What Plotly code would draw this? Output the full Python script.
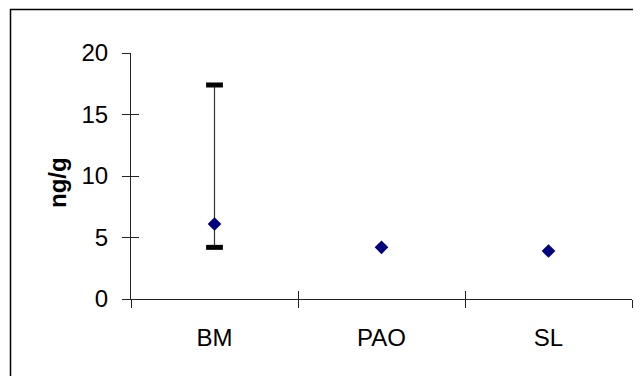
import plotly.graph_objects as go

categories = ["BM", "PAO", "SL"]
values = [6.1, 4.2, 3.9]
err_high = [17.4, None, None]
err_low = [4.2, None, None]
y_ticks = [0, 5, 10, 15, 20]

OFF = 8  # default body margin of the page
W, H = 641 - OFF, 376 - OFF
ML, MR, MT, MB = 131 - OFF, 9, 53 - OFF, 77
PW, PH = W - ML - MR, H - MT - MB

plus = [(h - v) if h is not None else 0 for h, v in zip(err_high, values)]
minus = [(v - l) if l is not None else 0 for l, v in zip(err_low, values)]
cap_x = [c for c, h in zip(categories, err_high) if h is not None] + \
        [c for c, l in zip(categories, err_low) if l is not None]
cap_y = [h for h in err_high if h is not None] + [l for l in err_low if l is not None]

FONT = "Liberation Sans, Arial, sans-serif"
FS = 24
AX = "#222222"

fig = go.Figure()
fig.add_trace(go.Scatter(
    x=categories, y=values, mode="markers",
    marker=dict(size=0.1, color="rgba(0,0,0,0)"),
    error_y=dict(type="data", symmetric=False, array=plus, arrayminus=minus,
                 color="#333333", thickness=1.2, width=0),
    hoverinfo="skip", showlegend=False))
fig.add_trace(go.Scatter(
    x=cap_x, y=cap_y, mode="markers",
    marker=dict(symbol="line-ew", size=12, line=dict(width=5, color="black")),
    hoverinfo="skip", showlegend=False))
fig.add_trace(go.Scatter(
    x=categories, y=values, mode="markers",
    marker=dict(symbol="diamond", size=10.5, color="#000080", line=dict(width=0)),
    showlegend=False))
fig.add_trace(go.Scatter(
    x=categories, y=values, mode="markers", xaxis="x2", yaxis="y2",
    marker=dict(size=1, opacity=0), hoverinfo="skip", showlegend=False))

common_x = dict(type="category", categoryorder="array", categoryarray=categories,
                range=[-0.5, 2.5], tickson="boundaries", ticklen=8,
                tickcolor=AX, tickwidth=1, showgrid=False, zeroline=False)
common_y = dict(range=[0, 20], tickvals=y_ticks, ticklen=8, tickcolor=AX,
                tickwidth=1, showgrid=False, zeroline=False)

fig.update_layout(
    width=W, height=H,
    margin=dict(l=ML, r=MR, t=MT, b=MB, pad=0),
    paper_bgcolor="white", plot_bgcolor="white",
    font=dict(family=FONT, size=FS, color="black"),
    xaxis=dict(**common_x, ticks="outside", showline=True, linecolor=AX,
               linewidth=1, tickfont=dict(size=FS), ticklabelstandoff=17),
    yaxis=dict(**common_y, ticks="outside", showline=True, linecolor=AX,
               linewidth=1, tickfont=dict(size=FS), ticklabelstandoff=9),
    xaxis2=dict(**common_x, ticks="inside", showline=False,
                showticklabels=False, overlaying="x", side="bottom"),
    yaxis2=dict(**common_y, ticks="inside", showline=False,
                showticklabels=False, overlaying="y", side="left"),
    annotations=[dict(
        text="<b>ng/g</b>", textangle=-90, showarrow=False,
        xref="paper", yref="paper",
        x=(57 - 131) / PW, y=(299 - 183) / PH,
        xanchor="center", yanchor="middle",
        font=dict(family=FONT, size=FS, color="black"))],
    shapes=[dict(type="rect", xref="paper", yref="paper",
                 x0=(10.5 - 131) / PW, x1=(641 + 20 - 131) / PW,
                 y0=-(MB + 20) / PH, y1=1 + (53 - 9.5) / PH,
                 line=dict(color="black", width=1.5), layer="below")],
)

fig.write_html("out.html")
